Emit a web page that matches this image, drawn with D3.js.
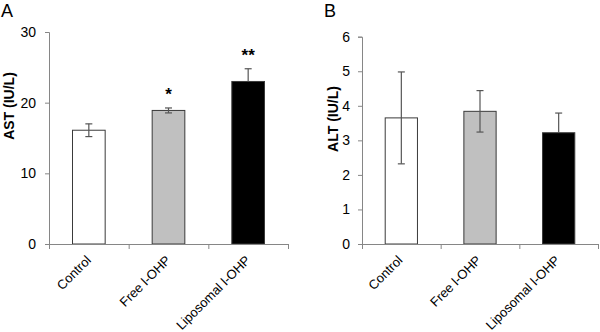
<!DOCTYPE html>
<html><head><meta charset="utf-8">
<script src="https://cdn.jsdelivr.net/npm/d3@7"></script>
<style>body{margin:0;background:#fff}svg{display:block}text{font-family:"Liberation Sans",Arial,sans-serif}</style>
</head><body>
<svg id="chart" width="600" height="332"></svg>
<script>
const categories = ["Control", "Free l-OHP", "Liposomal l-OHP"];
const astValues = [16.1, 18.9, 23.0];
const astErrors = [0.9, 0.35, 1.8];
const astMarks = ["", "*", "**"];
const altValues = [3.65, 3.84, 3.22];
const altErrors = [1.33, 0.6, 0.57];
const altMarks = ["", "", ""];
const barFills = ["#ffffff", "#c0c0c0", "#000000"];
const astTicks = [0, 10, 20, 30];
const altTicks = [0, 1, 2, 3, 4, 5, 6];

const svg = d3.select("#chart");

function panel(opt) {
  const g = svg.append("g");
  const x = d3.scaleBand().domain(categories).range([opt.x0, opt.x1]).padding(0);
  const y = d3.scaleLinear().domain([0, opt.max]).range([244, opt.yTop]);
  const axisColor = "#868686";
  // y axis
  const ya = g.append("g").attr("transform", `translate(${opt.x0},0)`)
    .call(d3.axisLeft(y).tickValues(opt.ticks).tickFormat(d3.format("d")).tickSize(4).tickPadding(opt.tickPad));
  ya.select(".domain").attr("stroke", axisColor);
  ya.selectAll(".tick line").attr("stroke", axisColor);
  ya.selectAll(".tick text").attr("font-size", 14).attr("fill", "#000")
    .attr("font-family", "Liberation Sans, Arial, sans-serif");
  // bars
  const bw = x.bandwidth() * 0.41;
  g.selectAll("rect.bar").data(categories).enter().append("rect")
    .attr("x", d => x(d) + x.bandwidth() / 2 - bw / 2)
    .attr("y", (d, i) => y(opt.values[i]))
    .attr("width", bw)
    .attr("height", (d, i) => y(0) - y(opt.values[i]))
    .attr("fill", (d, i) => barFills[i])
    .attr("stroke", "#3a3a3a").attr("stroke-width", 1);
  // error bars
  const errColor = "#555";
  categories.forEach((c, i) => {
    const cx = x(c) + x.bandwidth() / 2;
    const top = y(opt.values[i] + opt.errors[i]);
    const bot = i === 2 ? y(opt.values[i]) : y(opt.values[i] - opt.errors[i]);
    g.append("line").attr("x1", cx).attr("x2", cx).attr("y1", top).attr("y2", bot)
      .attr("stroke", errColor).attr("stroke-width", 1.2);
    g.append("line").attr("x1", cx - 3.5).attr("x2", cx + 3.5).attr("y1", top).attr("y2", top)
      .attr("stroke", errColor).attr("stroke-width", 1.2);
    if (i !== 2) {
      g.append("line").attr("x1", cx - 3.5).attr("x2", cx + 3.5).attr("y1", bot).attr("y2", bot)
        .attr("stroke", errColor).attr("stroke-width", 1.2);
    }
    if (opt.marks[i]) {
      g.append("text").attr("x", cx).attr("y", top - 8).attr("text-anchor", "middle")
        .attr("font-size", 17).attr("font-weight", "bold").text(opt.marks[i]);
    }
  });
  // x axis line and boundary ticks
  g.append("line").attr("x1", opt.x0).attr("x2", opt.x1).attr("y1", 244.5).attr("y2", 244.5)
    .attr("stroke", axisColor);
  const bounds = categories.map(c => x(c)).concat([x(categories[categories.length - 1]) + x.bandwidth()]);
  g.selectAll("line.xt").data(bounds).enter().append("line")
    .attr("x1", d => d + 0.5).attr("x2", d => d + 0.5).attr("y1", 244).attr("y2", 249)
    .attr("stroke", axisColor);
  // x labels
  g.selectAll("text.xl").data(categories).enter().append("text")
    .attr("transform", d => `translate(${x(d) + x.bandwidth() / 2 + opt.xlOff},${261}) rotate(-45)`)
    .attr("text-anchor", "end").attr("font-size", 13).text(d => d);
  // y label
  g.append("text").attr("transform", `translate(${opt.labelX},${opt.labelY}) rotate(-90)`)
    .attr("text-anchor", "middle").attr("font-size", 14).attr("font-weight", "bold").text(opt.label);
  // panel letter
  g.append("text").attr("x", opt.letterX).attr("y", 17).attr("font-size", 18).text(opt.letter);
}

panel({x0: 49, x1: 288, yTop: 32, max: 30, ticks: astTicks, values: astValues, errors: astErrors,
  marks: astMarks, label: "AST (IU/L)", labelX: 14, labelY: 106, letter: "A", letterX: 1,
  tickPad: 9, xlOff: 3});
panel({x0: 362, x1: 598, yTop: 36.7, max: 6, ticks: altTicks, values: altValues, errors: altErrors,
  marks: altMarks, label: "ALT (IU/L)", labelX: 338, labelY: 119, letter: "B", letterX: 324,
  tickPad: 8, xlOff: 2});
</script>
</body></html>
